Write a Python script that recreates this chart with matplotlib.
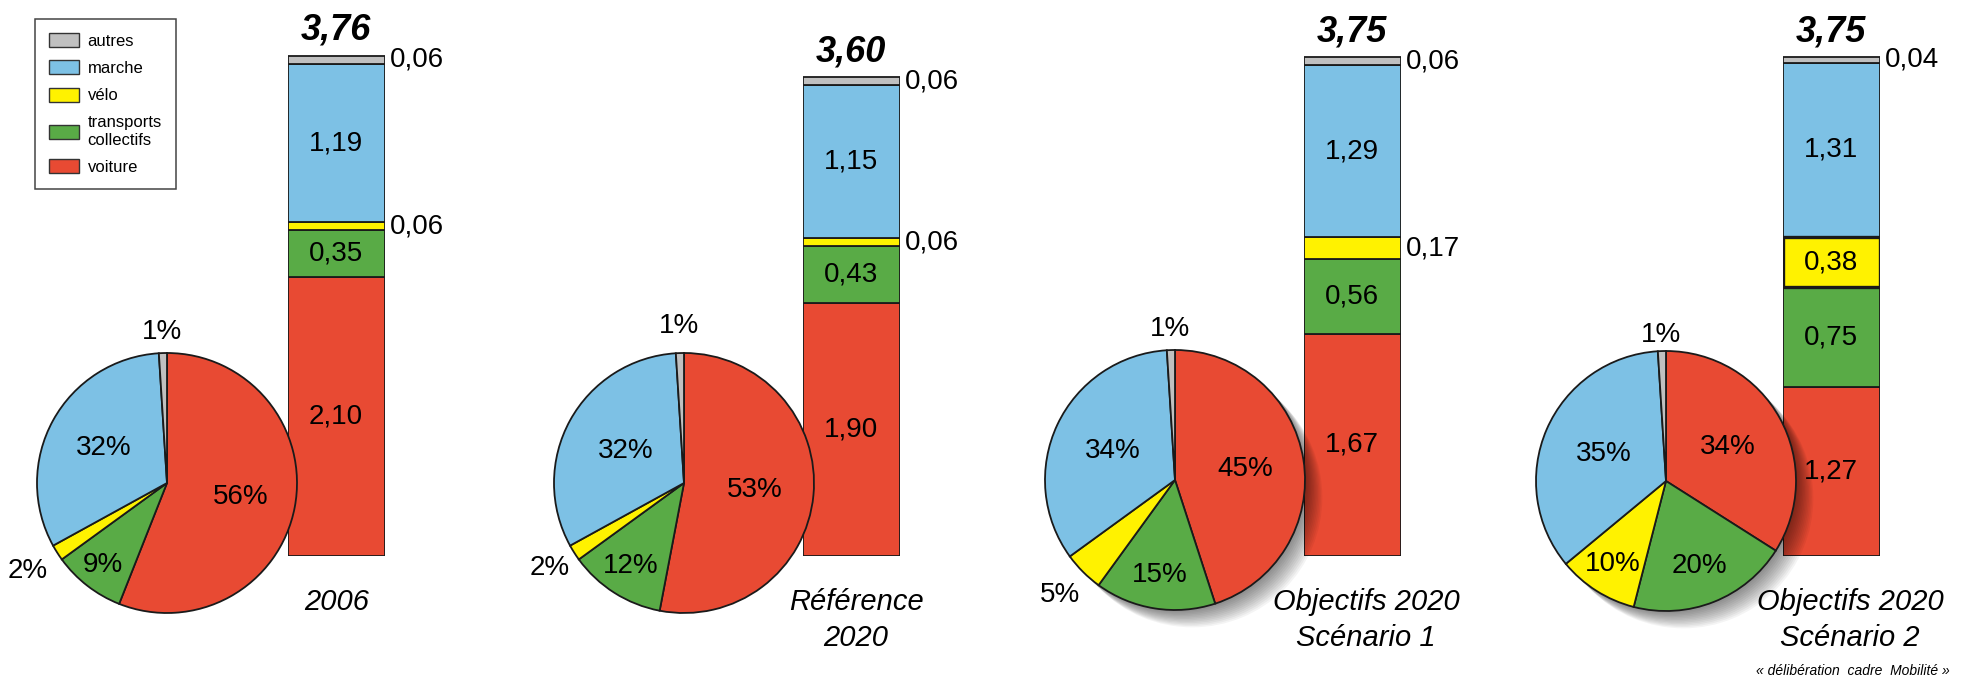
import matplotlib
matplotlib.use("Agg")
import numpy as np
import matplotlib.pyplot as plt
import matplotlib.patheffects as pe
from matplotlib.patches import Patch

plt.rcParams['font.family'] = ['Liberation Sans', 'DejaVu Sans']

# data (stack order from bottom / pie order clockwise from top)
modes = ["voiture", "transports collectifs", "vélo", "marche", "autres"]
mode_colors = ["#e84a33", "#59ab46", "#fff200", "#7dc1e5", "#c0c0c0"]
legend_labels = ["autres", "marche", "vélo", "transports\ncollectifs", "voiture"]

captions = [["2006"], ["Référence", "2020"],
            ["Objectifs 2020", "Scénario 1"], ["Objectifs 2020", "Scénario 2"]]

trips_2006 = [2.10, 0.35, 0.06, 1.19, 0.06]
trips_ref2020 = [1.90, 0.43, 0.06, 1.15, 0.06]
trips_obj_s1 = [1.67, 0.56, 0.17, 1.29, 0.06]
trips_obj_s2 = [1.27, 0.75, 0.38, 1.31, 0.04]

share_2006 = [56, 9, 2, 32, 1]
share_ref2020 = [53, 12, 2, 32, 1]
share_obj_s1 = [45, 15, 5, 34, 1]
share_obj_s2 = [34, 20, 10, 35, 1]

footnote = "« délibération  cadre  Mobilité »"

# layout (pixels)
W, H = 1966, 680
bar_left = [288, 803, 1304, 1783]
bar_w = 97
bar_base = 556
px_per_unit = 133
pie_cx = [167, 684, 1175, 1666]
pie_cy = [483, 483, 480, 481]
pie_r = 130
label_r = [[0.58, 0.80, 1.27, 0.56, 1.16],
           [0.55, 0.76, 1.22, 0.51, 1.21],
           [0.55, 0.74, 1.25, 0.53, 1.16],
           [0.54, 0.70, 0.76, 0.52, 1.12]]
caption_x = [337, 856, 1366, 1850]
shadowed = [False, False, True, True]
thick_segment = [None, None, None, 2]

panels = [(trips_2006, share_2006), (trips_ref2020, share_ref2020),
          (trips_obj_s1, share_obj_s1), (trips_obj_s2, share_obj_s2)]


def px_axes(left, top, width, height, z):
    ax = fig.add_axes([left / W, 1 - (top + height) / H, width / W, height / H], zorder=z)
    ax.axis("off")
    return ax


def fmt(v):
    return f"{v:.2f}".replace(".", ",")


def soft_shadow():
    # stacked offsets give a blurred-looking drop shadow
    effects = [pe.SimplePatchShadow(offset=(o, -o), shadow_rgbFace="black", alpha=0.045)
               for o in np.arange(1.5, 13, 1.0)]
    return effects + [pe.Normal()]


fig = plt.figure(figsize=(W / 100, H / 100), dpi=100)

for i, (trips, shares) in enumerate(panels):
    # stacked bar
    ylim = 4.0
    axb = px_axes(bar_left[i] - 0.5, bar_base - ylim * px_per_unit, bar_w,
                  ylim * px_per_unit, 1)
    axb.set_xlim(-0.5, 0.5)
    axb.set_ylim(0, ylim)
    total = sum(trips)
    if shadowed[i]:
        sh = axb.bar(0, total, width=1, color="white", linewidth=0, zorder=0)
        sh[0].set_path_effects(soft_shadow())
    bottom = 0
    for k, (v, c) in enumerate(zip(trips, mode_colors)):
        lw = 2.4 if thick_segment[i] == k else 1.3
        axb.bar(0, v, bottom=bottom, width=1, color=c, edgecolor="#1a1a1a",
                linewidth=lw, zorder=2 + (k == thick_segment[i]))
        if v < 0.2:
            axb.text(0.56, bottom + v / 2, fmt(v), ha="left", va="center", fontsize=20)
        else:
            axb.text(0, bottom + v / 2, fmt(v), ha="center", va="center", fontsize=20)
        bottom += v
    axb.text(0, total + 0.12, fmt(total), ha="center", va="baseline", fontsize=26,
             fontweight="bold", fontstyle="italic")

    # pie
    axp = px_axes(pie_cx[i] - pie_r, pie_cy[i] - pie_r, 2 * pie_r, 2 * pie_r, 2)
    if shadowed[i]:
        bg, _ = axp.pie([1], radius=1, colors=["white"], wedgeprops=dict(linewidth=0))
        bg[0].set_path_effects(soft_shadow())
    wedges, _ = axp.pie(shares, colors=mode_colors, startangle=90, counterclock=False,
                        radius=1, wedgeprops=dict(edgecolor="#1a1a1a", linewidth=1.3))
    for w, s, r in zip(wedges, shares, label_r[i]):
        mid = np.deg2rad((w.theta1 + w.theta2) / 2)
        axp.text(r * np.cos(mid), r * np.sin(mid), f"{s}%", ha="center", va="center",
                 fontsize=20)
    axp.set_xlim(-1, 1)
    axp.set_ylim(-1, 1)
    axp.set_aspect("auto")

    # caption
    for j, line in enumerate(captions[i]):
        fig.text(caption_x[i] / W, 1 - (602 + 36 * j) / H, line, ha="center",
                 va="center", fontsize=21, fontstyle="italic")

fig.text(1950 / W, 1 - 671 / H, footnote, ha="right", va="center", fontsize=10,
         fontstyle="italic")

handles = [Patch(facecolor=c, edgecolor="#333333", linewidth=1) for c in mode_colors][::-1]
leg = fig.legend(handles, legend_labels, loc="upper left",
                 bbox_to_anchor=(35 / W, 1 - 19 / H), borderaxespad=0,
                 frameon=True, fancybox=False, edgecolor="#444444", framealpha=1,
                 fontsize=12, handlelength=1.8, handleheight=0.9, labelspacing=0.7,
                 borderpad=0.85, handletextpad=0.5)
leg.get_frame().set_linewidth(1.1)

fig.savefig("out.png", dpi=100)
